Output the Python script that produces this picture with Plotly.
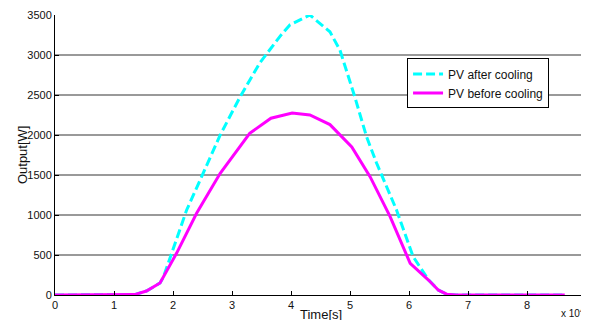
import plotly.graph_objects as go

# time in units of 1e4 s
t_after = [0, 1.0, 1.35, 1.55, 1.78, 1.84, 2.23, 2.51, 2.80, 3.14, 3.47, 3.81, 3.98, 4.32, 4.66, 4.83, 5.08, 5.28, 5.45, 5.79, 6.07, 6.33, 6.50, 6.64, 6.80, 8.64]
pv_after = [0, 0, 5, 50, 150, 229, 1060, 1520, 2000, 2480, 2900, 3230, 3375, 3500, 3290, 3060, 2480, 1980, 1650, 1060, 480, 190, 60, 10, 0, 0]

t_before = [0, 1.0, 1.35, 1.55, 1.78, 2.06, 2.40, 2.80, 3.30, 3.66, 4.02, 4.32, 4.66, 5.03, 5.34, 5.68, 6.02, 6.33, 6.50, 6.64, 6.80, 8.64]
pv_before = [0, 0, 5, 50, 150, 521, 1021, 1521, 2021, 2210, 2275, 2250, 2130, 1850, 1479, 979, 396, 187, 60, 10, 0, 0]

x_ticks = [0, 1, 2, 3, 4, 5, 6, 7, 8, 9]
y_ticks = [0, 500, 1000, 1500, 2000, 2500, 3000, 3500]

fig = go.Figure()
fig.add_trace(go.Scatter(x=t_after, y=pv_after, mode="lines", name="PV after cooling",
                         line=dict(color="#00FFFF", width=3, dash="9px,4px")))
fig.add_trace(go.Scatter(x=t_before, y=pv_before, mode="lines", name="PV before cooling",
                         line=dict(color="#FF00FF", width=3)))

font = dict(family="Liberation Sans, Arial, sans-serif", size=11, color="#111")
# page body has an 8px margin, so the figure is drawn 8px in from the top-left
fig.update_layout(
    width=581, height=312,
    margin=dict(l=47, r=3, t=7, b=25, autoexpand=False),
    paper_bgcolor="white", plot_bgcolor="white",
    font=font,
    showlegend=True,
    legend=dict(x=0.663, y=0.845, xanchor="left", yanchor="top",
                bgcolor="white", bordercolor="black", borderwidth=1,
                font=dict(family="Liberation Sans, Arial, sans-serif", size=12, color="#111"),
                tracegroupgap=0, itemwidth=30),
)
fig.update_xaxes(range=[0, 9], tickvals=x_ticks, ticktext=[str(v) for v in x_ticks],
                 automargin=False,
                 showgrid=False, zeroline=False, showline=True, linecolor="black", linewidth=1,
                 ticks="inside", ticklen=4, tickcolor="black")
fig.update_yaxes(range=[0, 3500], tickvals=y_ticks, ticktext=[str(v) for v in y_ticks],
                 automargin=False,
                 showgrid=True, gridcolor="#999999", gridwidth=1.5, zeroline=False,
                 showline=True, linecolor="black", linewidth=1,
                 ticks="inside", ticklen=4, tickcolor="black")
fig.add_annotation(text="Time[s]", xref="paper", yref="paper", x=0.5, y=-0.068,
                   xanchor="center", yanchor="middle", showarrow=False,
                   font=dict(size=13, color="#111"))
fig.add_annotation(text="Output[W]", xref="paper", yref="paper", x=-0.062, y=0.5,
                   xanchor="center", yanchor="middle", textangle=-90, showarrow=False,
                   font=dict(size=13, color="#111"))
fig.add_annotation(text="x 10<sup>4</sup>", xref="paper", yref="paper", x=1.0, y=-0.036,
                   xanchor="right", yanchor="top", showarrow=False,
                   font=dict(size=10, color="#111"))
fig.write_html("out.html")
